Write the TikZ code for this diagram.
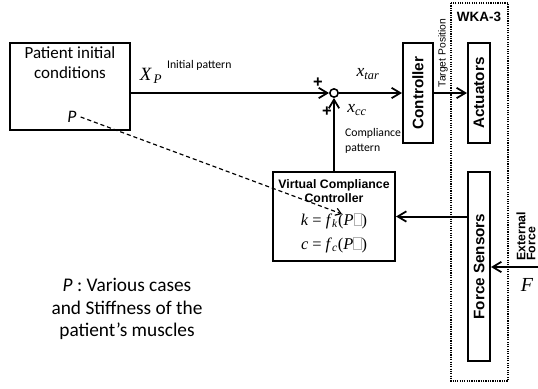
\documentclass[tikz,border=0pt]{standalone}
\usepackage{fontspec}
\setmainfont{Carlito}
\newfontfamily\arialfont{Liberation Sans}
\newfontfamily\timesfont{Liberation Serif}
\usetikzlibrary{arrows.meta,positioning}

% empty glyph box left by the equation editor
\newcommand{\gapbox}{{\color{black!30}\setlength{\fboxsep}{0pt}\setlength{\fboxrule}{0.5pt}\framebox[0.5em]{\rule{0pt}{0.72em}}}}
\newcommand{\fsz}[1]{\fontsize{#1}{1.2\dimexpr#1pt\relax}\selectfont}

\begin{document}
\begin{tikzpicture}[x=0.03cm,y=-0.03cm,
  blk/.style={draw,line width=1.7pt,inner sep=0pt},
  sig/.style={line width=1.7pt,-{Straight Barb[length=2.6mm,width=3.1mm,line width=1.5pt]}},
  vlabel/.style={rotate=90,font=\arialfont\bfseries\fsz{13}},
  mathtxt/.style={font=\timesfont\itshape\fsz{15}},
  small/.style={font=\fsz{10}}]
\useasboundingbox (0,0) rectangle (538,388);

% Patient side and compliance controller.
\node[blk,minimum width=36mm,minimum height=26.1mm] (patient) at (70,86.5) {};
\node[align=center,font=\fontsize{14.5}{17}\selectfont] (ptitle) at (70,63) {Patient initial\\conditions};
\node[font=\itshape\fsz{15}] (pvar) at (72,117) {P};
\node[blk,minimum width=36.6mm,minimum height=26.7mm] (vcc) at (334,216.5) {};
\node[align=center,font=\arialfont\bfseries\fontsize{10.5}{11.5}\selectfont] (vcctitle) at (334,191) {Virtual Compliance\\Controller};
\node[font=\timesfont\fsz{14}] (keq) at (334,221) {\textit{k} = \textit{f}\textsubscript{\textit{k}}(\textit{P}\gapbox)};
\node[font=\timesfont\fsz{14}] (ceq) at (334,245) {\textit{c} = \textit{f}\textsubscript{\textit{c}}(\textit{P}\gapbox)};

% Summing junction and robot blocks.
\node[draw,circle,line width=1.3pt,minimum size=2.5mm,inner sep=0pt] (sum) at (334,93) {};
\node[blk,minimum width=9mm,minimum height=30mm] (ctrl) at (418,93) {};
\node[vlabel] (ctrllabel) at (ctrl) {Controller};
\node[blk,minimum width=6.6mm,minimum height=30mm] (act) at (479,93) {};
\node[vlabel] (actlabel) at (act) {Actuators};
\node[blk,minimum width=6.6mm,minimum height=56.7mm] (sens) at (479,266.5) {};
\node[vlabel] (senslabel) at (sens) {Force Sensors};
\draw[line width=1.1pt,dash pattern=on 1pt off 1pt] (451,3) rectangle (508,381);
\node[font=\arialfont\bfseries\fsz{11.5}] (wka) at (479,17) {WKA-3};

% Signals.
\coordinate (fext) at (538,267);
\coordinate (ptip) at (342,214);
\draw[sig] (patient.east |- sum) -- (sum.west);
\draw[sig] (sum.east) -- (ctrl.west);
\draw[sig] (ctrl.east) -- (act.west);
\draw[sig] (vcc.north) -- (sum.south);
\draw[sig] (sens.west |- vcc.east) -- (vcc.east);
\draw[sig] (fext) -- (sens.east |- fext);
\draw[line width=1pt,dash pattern=on 3.5pt off 2.5pt,-{Straight Barb[length=1.6mm,width=2.2mm]}] (pvar.east) -- (ptip);

% Labels.
\node[mathtxt,font=\timesfont\itshape\fsz{16}] (xp) at (151,76) {X\textsubscript{\,P}};
\node[small,anchor=west] (ipat) at (163,65) {Initial pattern};
\node[mathtxt] (xtar) at (368,74) {x\textsubscript{tar}};
\node[mathtxt] (xcc) at (357,110) {x\textsubscript{cc}};
\node[small,anchor=north west,align=left,font=\fontsize{10}{13}\selectfont] (cpat) at (341,124) {Compliance\\pattern};
\node[font=\arialfont\bfseries\fsz{14}] (plusa) at (318,83) {+};
\node[font=\arialfont\bfseries\fsz{14}] (plusb) at (327,112) {+};
\node[rotate=90,font=\arialfont\fsz{8.8}] (tpos) at (443,53) {Target Position};
\node[rotate=90,anchor=west,align=left,inner sep=1pt,font=\arialfont\bfseries\fontsize{10.5}{8.5}\selectfont] (extlabel) at (526,262) {External\\Force};
\node[font=\timesfont\itshape\fsz{17}] (fvar) at (527,285) {F};
\node[align=center,font=\fontsize{16.5}{19}\selectfont] (note) at (127,309) {\textit{P} : Various cases\\and Stiffness of the\\patient’s muscles};
\end{tikzpicture}
\end{document}
